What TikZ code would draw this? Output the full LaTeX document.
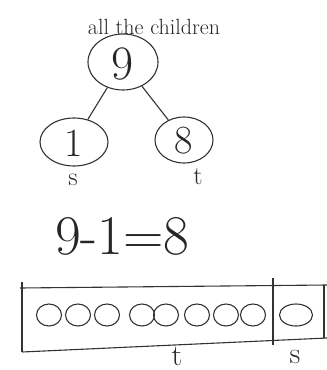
\documentclass[tikz,border=0pt]{standalone}
\usepackage{fontspec}
\usetikzlibrary{shapes.geometric}
\begin{document}
\begin{tikzpicture}[x=1pt,y=-1pt,
  ink/.style={draw=black!80, line width=1.1pt},
  bubble/.style={ink, ellipse, inner sep=0pt},
  bead/.style={ink, ellipse, minimum width=25pt, minimum height=22pt, inner sep=0pt},
  big/.style={font=\fontsize{48}{50}\selectfont, text=black!85},
  mid/.style={font=\fontsize{40}{42}\selectfont, text=black!85},
  lab/.style={font=\fontsize{26}{28}\selectfont, text=black!85, inner sep=0pt}]
\useasboundingbox (0,0) rectangle (327,370);
% title
\node[font=\fontsize{22}{24}\selectfont, text=black!85, inner sep=0pt] (title) at (154,27) {all the children};
% tree
\node[bubble, minimum width=70pt, minimum height=56pt] (top) at (123,62) {};
\node[big, inner sep=0pt] (nine) at (123,64) {9};
\node[bubble, minimum width=68pt, minimum height=48pt] (left) at (74,142) {};
\node[mid, inner sep=0pt] (one) at (74,143) {1};
\node[bubble, minimum width=58pt, minimum height=46pt] (right) at (184,140) {};
\node[mid, inner sep=0pt] (eight) at (184,141) {8};
\draw[ink] (top) -- (left);
\draw[ink] (top) -- (right);
\node[lab] (s1) at (73,180) {s};
\node[lab] (t1) at (198,177) {t};
% equation
\node[font=\fontsize{56}{60}\selectfont, text=black!85, inner sep=0pt, anchor=west] (eq) at (55,236) {9-1=8};
% box
\coordinate (bl) at (22,352);
\coordinate (tr) at (327,285);
\coordinate (br) at (327,338);
\draw[ink] (22,282) -- (bl);
\draw[ink] (20,288) -- (tr);
\draw[ink] (bl) -- (br);
\draw[ink] (324,285) -- (324,338);
\draw[ink] (273,278) -- (273,345);
% beads
\foreach \x [count=\i] in {49,78,107,142,166,197,226,253} {
  \node[bead] (b\i) at (\x,315) {};
}
\node[bead, minimum width=33pt] (b9) at (296,315) {};
\node[lab, font=\fontsize{30}{32}\selectfont] (t2) at (177,356) {t};
\node[lab, font=\fontsize{30}{32}\selectfont] (s2) at (295,357) {s};
\end{tikzpicture}
\end{document}
